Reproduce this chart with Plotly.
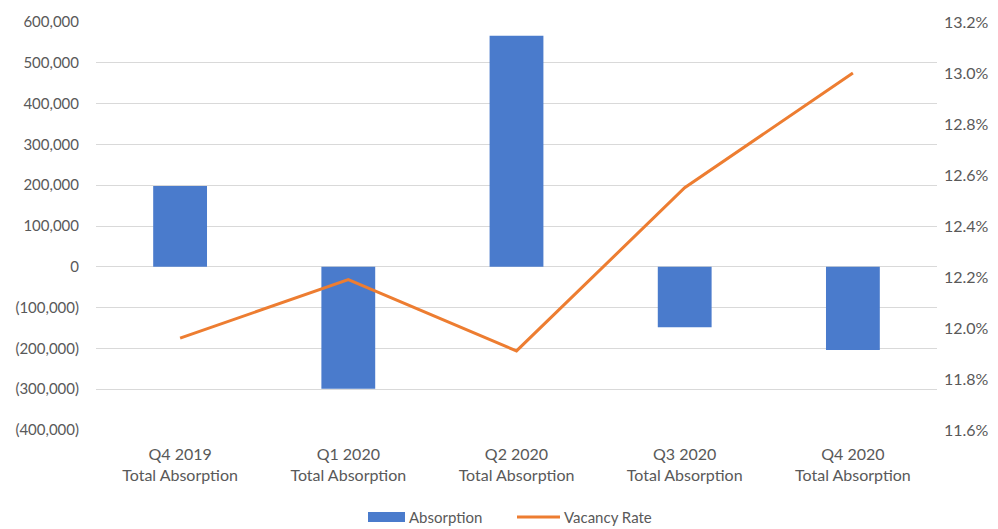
import plotly.graph_objects as go

# Quarterly net absorption (sq ft) and vacancy rate (%)
quarters = ["Q4 2019", "Q1 2020", "Q2 2020", "Q3 2020", "Q4 2020"]
absorption = [198000, -299000, 566000, -148000, -204000]
vacancy_rate = [11.96, 12.19, 11.91, 12.55, 13.00]

left_ticks = [600000, 500000, 400000, 300000, 200000, 100000, 0,
              -100000, -200000, -300000, -400000]
right_ticks = [13.2, 13.0, 12.8, 12.6, 12.4, 12.2, 12.0, 11.8, 11.6]

bar_name = "Absorption"
line_name = "Vacancy Rate"
bar_color = "#4A7BCC"
line_color = "#ED7D31"


def fmt_units(v):
    return f"({abs(v):,})" if v < 0 else f"{v:,}"


categories = [f"{q}<br>Total Absorption" for q in quarters]

font_family = "Lato, 'Open Sans', sans-serif"
text_grey = "#595959"

fig = go.Figure()
fig.add_trace(go.Bar(
    x=categories, y=absorption, name=bar_name,
    marker=dict(color=bar_color, line=dict(width=0)),
    width=0.32, showlegend=False,
))
fig.add_trace(go.Scatter(
    x=categories, y=vacancy_rate, name=line_name, yaxis="y2",
    mode="lines", line=dict(color=line_color, width=3), showlegend=False,
))

W, H = 998, 529
ml, mr, mt, mb = 96, 61, 22, 99
pw, ph = W - ml - mr, H - mt - mb


def px_x(x):
    return (x - ml) / pw


def px_y(y):
    return (H - mb - y) / ph


# Bottom legend: swatch + label pairs in paper coordinates
leg_y = 517
shapes = [
    dict(type="rect", xref="paper", yref="paper",
         x0=px_x(368), x1=px_x(405), y0=px_y(leg_y + 5), y1=px_y(leg_y - 5),
         fillcolor=bar_color, line=dict(width=0)),
    dict(type="line", xref="paper", yref="paper",
         x0=px_x(517), x1=px_x(560), y0=px_y(leg_y), y1=px_y(leg_y),
         line=dict(color=line_color, width=3)),
]
annotations = [
    dict(text=bar_name, xref="paper", yref="paper", x=px_x(407),
         y=px_y(leg_y), xanchor="left", yanchor="middle", showarrow=False,
         font=dict(size=15, color=text_grey)),
    dict(text=line_name, xref="paper", yref="paper", x=px_x(562),
         y=px_y(leg_y), xanchor="left", yanchor="middle", showarrow=False,
         font=dict(size=15, color=text_grey)),
]

fig.update_layout(
    width=W, height=H,
    margin=dict(l=ml, r=mr, t=mt, b=mb),
    paper_bgcolor="white", plot_bgcolor="white",
    font=dict(family=font_family, size=14, color=text_grey),
    showlegend=False,
    shapes=shapes, annotations=annotations,
    xaxis=dict(showgrid=False, showline=False, ticks="outside", ticklen=10,
               tickcolor="rgba(0,0,0,0)", automargin=False,
               tickfont=dict(size=16, color=text_grey)),
    yaxis=dict(range=[-400000, 600000], tickvals=left_ticks,
               ticktext=[fmt_units(v) for v in left_ticks],
               showgrid=True, gridcolor="#D9D9D9", gridwidth=1,
               zeroline=True, zerolinecolor="#D9D9D9", zerolinewidth=1,
               showline=False, ticks="", ticklabelstandoff=16,
               automargin=False,
               tickfont=dict(size=15, color=text_grey)),
    yaxis2=dict(range=[11.6, 13.2], overlaying="y", side="right",
                tickvals=right_ticks,
                ticktext=[f"{v:.1f}%" for v in right_ticks],
                showgrid=False, zeroline=False, showline=False, ticks="",
                ticklabelstandoff=6, automargin=False,
                tickfont=dict(size=16, color=text_grey)),
)

fig.write_html("out.html")
